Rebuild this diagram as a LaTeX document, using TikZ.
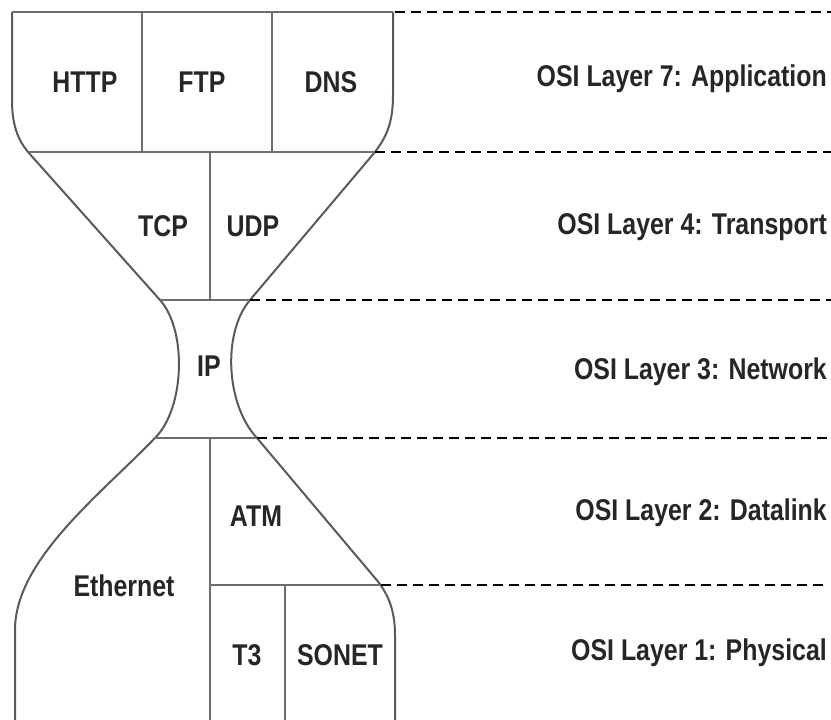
\documentclass[tikz,border=0pt]{standalone}
\usepackage{fontspec}
\newfontfamily\lbl{Liberation Sans}[FakeStretch=0.83]
\definecolor{outcol}{RGB}{90,90,90}
\definecolor{sepcol}{RGB}{110,110,110}
\begin{document}
\begin{tikzpicture}[x=1pt,y=-1pt,
  outl/.style={draw=outcol,line width=2pt},
  sep/.style={draw=sepcol,line width=2pt},
  dsh/.style={draw=black,line width=2pt,dash pattern=on 10pt off 6pt},
  txt/.style={font=\lbl\bfseries\fontsize{30}{36}\selectfont,inner sep=0pt,text=black!85},
  lay/.style={txt,anchor=east}]
\useasboundingbox (0,0) rectangle (831,720);
% outline
\draw[outl] (12,12) -- (12,100) .. controls (12,125) and (18,140) .. (28,152)
  -- (160,300) .. controls (187,330) and (185,408) .. (155,438)
  .. controls (100,495) and (15,560) .. (15,630) -- (15,720);
\draw[outl] (393,12) -- (393,95) .. controls (393,120) and (388,135) .. (375,152)
  -- (250,300) .. controls (222,333) and (226,405) .. (257,438)
  -- (375,578) .. controls (388,593) and (395,610) .. (395,635) -- (395,720);
% horizontal separators
\draw[sep] (12,12) -- (393,12);
\draw[sep] (28,152) -- (375,152);
\draw[sep] (160,300) -- (250,300);
\draw[sep] (155,438) -- (257,438);
\draw[sep] (210,585) -- (381,585);
% vertical separators
\draw[sep] (142,12) -- (142,152);
\draw[sep] (272,12) -- (272,152);
\draw[sep] (210,152) -- (210,300);
\draw[sep] (210,438) -- (210,720);
\draw[sep] (285,585) -- (285,720);
% dashed layer lines
\draw[dsh] (395,12) -- (831,12);
\draw[dsh] (375,152) -- (831,152);
\draw[dsh] (250,300) -- (831,300);
\draw[dsh] (257,438) -- (831,438);
\draw[dsh] (381,585) -- (824,585);
% protocol labels
\node[txt] (http) at (85,82) {HTTP};
\node[txt] (ftp) at (202,82) {FTP};
\node[txt] (dns) at (331,82) {DNS};
\node[txt] (tcp) at (163,226) {TCP};
\node[txt] (udp) at (253,226) {UDP};
\node[txt] (ip) at (209,366) {IP};
\node[txt] (atm) at (256,516) {ATM};
\node[txt] (eth) at (124,586) {Ethernet};
\node[txt] (t3) at (247,655) {T3};
\node[txt] (sonet) at (340,655) {SONET};
% layer labels
\node[lay] (l7) at (827,79) {OSI Layer 7: Application};
\node[lay] (l4) at (827,227) {OSI Layer 4: Transport};
\node[lay] (l3) at (827,372) {OSI Layer 3: Network};
\node[lay] (l2) at (827,513) {OSI Layer 2: Datalink};
\node[lay] (l1) at (827,653) {OSI Layer 1: Physical};
\end{tikzpicture}
\end{document}
